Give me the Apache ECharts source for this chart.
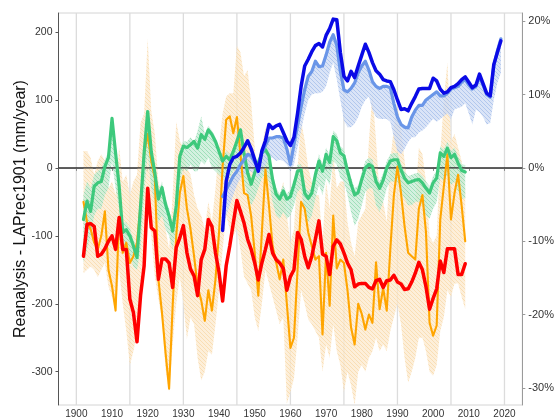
<!DOCTYPE html>
<html>
<head>
<meta charset="utf-8">
<script src="https://cdn.jsdelivr.net/npm/echarts@6/dist/echarts.min.js"></script>
<style>
  html, body { margin: 0; padding: 0; background: #ffffff; }
  #chart { width: 557px; height: 419px; }
</style>
</head>
<body>
<div id="chart"></div>
<script>
// ---- annual series (mm/year), reanalysis minus LAPrec1901 ----
const firstYearLong = 1902, lastYearLong = 2009;
const firstYearBlue = 1941, lastYearBlue = 2019;

const redSeries = [
  -130, -83, -82, -86, -130, -127, -119, -108,
  -100, -120, -73, -120, -120, -193, -213, -256, -188, -144,
  -30, -88, -93, -164, -134, -134, -140, -176, -117, -103,
  -85, -125, -149, -159, -188, -135, -120, -76, -86, -125,
  -154, -196, -144, -115, -81, -48, -64, -81, -105, -120,
  -140, -165, -140, -120, -98, -125, -135, -140, -148, -180,
  -160, -150, -95, -105, -130, -147, -130, -105, -78, -127,
  -130, -157, -115, -106, -112, -125, -140, -150, -175, -171,
  -170, -170, -176, -178, -166, -164, -176, -166, -165, -158,
  -168, -171, -179, -178, -168, -155, -139, -150, -175, -208,
  -192, -178, -137, -154, -119, -119, -119, -157, -157, -141
];

const greenSeries = [
  -76, -49, -64, -27, -22, -20, 2, 15,
  73, 22, -27, -95, -91, -100, -115, -132, -56, 22,
  83, 24, -7, -46, -29, -54, -71, -93, -56, 17,
  32, 30, 34, 39, 29, 49, 42, 56, 49, 39,
  24, 10, 17, 12, 24, 39, 56, 22, -7, -24,
  -7, 7, 22, 27, 17, -17, -39, -46, -34, -46,
  -42, -25, -5, -3, -37, -45, -37, -10, 10, -5,
  20, 8, 46, 40, 22, 18, -5, -24, -40, -36,
  -17, 0, 5, 2, -20, -30, -18, 0, 10, 12,
  12, -3, -15, -22, -20, -18, -17, -22, -30, -37,
  -22, -15, 22, 17, 29, 15, 20, 7, -4, -6
];
const greenUpper = [
  -40, -20, -30, -10, -5, 0, 12, 25,
  75, 30, -10, -80, -80, -90, -105, -125, -45, 30,
  85, 30, 0, -35, -20, -45, -60, -85, -45, 25,
  40, 38, 45, 38, 55, 76, 50, 62, 55, 45,
  30, 18, 25, 20, 30, 45, 60, 30, 2, -15,
  0, 15, 30, 35, 25, -8, -30, -38, -25, -38,
  -32, -15, 5, 5, -28, -35, -28, 0, 20, 5,
  30, 18, 55, 50, 32, 28, 5, -14, -30, -26,
  -7, 10, 15, 12, -10, -20, -8, 10, 20, 22,
  22, 7, -5, -12, -10, -8, -7, -12, -20, -27,
  -12, -5, 32, 27, 39, 25, 30, 17, 6, 4
];
const greenLower = [
  -140, -120, -100, -70, -60, -60, -40, -30,
  10, -30, -60, -110, -120, -130, -145, -150, -120, -40,
  20, -30, -50, -80, -70, -90, -100, -120, -90, -20,
  0, -5, 5, -5, -5, 10, 5, 15, 0, -5,
  -10, -15, -20, -15, -5, 0, 10, -20, -40, -55,
  -45, -30, -15, -10, -20, -50, -70, -75, -65, -75,
  -70, -55, -35, -30, -70, -80, -70, -45, -25, -40,
  -15, -25, 10, 5, -15, -20, -40, -65, -85, -75,
  -55, -35, -30, -30, -55, -65, -50, -30, -20, -20,
  -20, -35, -45, -55, -55, -50, -50, -55, -70, -75,
  -60, -50, -15, -20, -10, -25, -20, -35, -45, -45
];

const orangeSeries = [
  -50, -80, -90, -110, -120, -100, -64, -150,
  -174, -210, -72, -125, -110, -140, -130, -110, -55, 20,
  50, 10, -15, -164, -213, -272, -325, -203, -100, -37,
  -12, -60, -90, -130, -175, -195, -225, -180, -210, -164,
  -95, 2, 71, 76, 51, 75, 20, -37, -40, -71,
  -125, -188, -95, -2, -56, -115, -139, -164, -135, -200,
  -265, -250, -150, -50, -60, -95, -115, -135, -130, -245,
  -125, -203, -70, -148, -135, -140, -180, -235, -260, -200,
  -215, -238, -216, -228, -139, -208, -177, -210, -120, -40,
  2, -37, -86, -125, -130, -135, -60, -40, -95, -228,
  -247, -232, -76, -27, 20, -76, -37, -10, -56, -108
];
const orangeUpper = [
  25, 25, 15, -10, 10, 20, 10, -30,
  -20, -40, 30, -20, -10, -40, -20, -10, 66, 80,
  190, 84, 50, -20, -40, -90, -120, -40, 68, 40,
  30, 0, -10, -40, -60, -70, -90, -50, -80, -30,
  30, 80, 105, 110, 110, 180, 170, 135, 144, 95,
  30, -30, 30, 60, 32, -10, -30, -40, -20, -70,
  -110, -90, 0, 70, 40, 0, -20, -40, -40, -110,
  -20, -60, 20, -30, -20, -20, -80, -110, -130, -80,
  -70, -60, 40, 110, 40, -40, -50, -80, 10, 60,
  90, 60, 10, -30, -50, -50, 30, 20, -20, -100,
  -110, -100, 20, 100, 155, 40, 50, 30, 10, -30
];
const orangeLower = [
  -155, -150, -145, -150, -161, -150, -140, -175,
  -190, -213, -150, -200, -240, -291, -270, -242, -170, -120,
  -60, -100, -160, -193, -223, -296, -330, -260, -200, -160,
  -200, -252, -220, -230, -280, -313, -300, -270, -275, -230,
  -180, -120, -70, -90, -100, -90, -120, -160, -170, -180,
  -220, -240, -200, -150, -170, -190, -210, -230, -220, -347,
  -330, -310, -250, -180, -200, -223, -230, -240, -250, -300,
  -260, -280, -230, -270, -290, -330, -300, -320, -349, -300,
  -290, -300, -280, -270, -250, -270, -260, -270, -240, -220,
  -200, -230, -280, -316, -300, -280, -250, -250, -270, -300,
  -306, -290, -240, -220, -180, -190, -170, -170, -190, -208
];

const blueSeries = [
  -92, -20, 5, 15, 17, 22, 30, 40, 28,
  12, -5, 25, 40, 64, 58, 62, 64, 52, 40,
  33, 45, 80, 120, 150, 160, 171, 180, 183, 178,
  195, 205, 219, 218, 170, 135, 128, 142, 133, 150,
  166, 182, 170, 155, 143, 138, 130, 128, 127, 115,
  100, 86, 87, 84, 95, 105, 116, 117, 117, 117,
  132, 128, 116, 110, 112, 118, 120, 124, 130, 134,
  126, 118, 122, 138, 124, 110, 106, 152, 170, 187
];
const lightBlueSeries = [
  -42, -32, -22, -12, -5, 5, 12, 20, 18,
  8, 0, 22, 33, 44, 44, 46, 46, 44, 28,
  5, 35, 62, 90, 115, 135, 142, 157, 149, 150,
  166, 185, 196, 180, 142, 115, 112, 117, 125, 140,
  150, 157, 144, 127, 120, 117, 120, 120, 118, 95,
  75, 64, 60, 59, 75, 85, 92, 92, 100, 104,
  108, 112, 106, 106, 110, 116, 118, 120, 126, 130,
  122, 116, 120, 134, 122, 108, 104, 150, 172, 190
];
const blueLower = [
  -95, -70, -55, -40, -25, -15, -10, -5, -5,
  -10, -15, -5, 5, 15, 15, 10, 12, 10, 5,
  -5, 5, 30, 55, 80, 100, 108, 110, 110, 112,
  120, 140, 155, 130, 100, 70, 60, 60, 65, 75,
  90, 100, 105, 85, 75, 72, 72, 72, 68, 45,
  25, 20, 28, 38, 45, 45, 52, 55, 60, 66,
  72, 68, 72, 76, 80, 72, 86, 88, 90, 95,
  80, 64, 86, 82, 75, 64, 66, 100, 125, 140
];

// ---- axis ticks ----
const xTickYears = [1900, 1910, 1920, 1930, 1940, 1950, 1960, 1970, 1980, 1990, 2000, 2010, 2020];
const gridYears = [1900, 1915, 1930, 1945, 1960, 1975, 1990, 2005, 2020];
const mmTicks = [-300, -200, -100, 0, 100, 200];
const pctTicks = [-30, -20, -10, 0, 10, 20];
const mmPerPercent = 10.79;   // 1 % of the LAPrec1901 mean, in mm/year
const yMin = -349, yMax = 228;

function yearRange(a, b) { const out = []; for (let y = a; y <= b; y++) out.push(y); return out; }
const yearsLong = yearRange(firstYearLong, lastYearLong);
const yearsBlue = yearRange(firstYearBlue, lastYearBlue);

const FONT = '"Liberation Sans", Arial, Helvetica, sans-serif';

// diagonal hatch texture used for the uncertainty bands
function hatch(bg, stroke, size) {
  const c = document.createElement('canvas');
  c.width = c.height = size;
  const g = c.getContext('2d');
  g.fillStyle = bg;
  g.fillRect(0, 0, size, size);
  g.strokeStyle = stroke;
  g.lineWidth = 0.8;
  g.beginPath();
  g.moveTo(-1, -1); g.lineTo(size + 1, size + 1);
  g.moveTo(-1, size - 1); g.lineTo(1, size + 1);
  g.moveTo(size - 1, -1); g.lineTo(size + 1, 1);
  g.stroke();
  return { image: c, repeat: 'repeat' };
}

function band(name, years, lo, hi, fill, z) {
  return {
    type: 'custom', name: name, z: z, silent: true, animation: false,
    data: years.map((y, i) => [y, lo[i], hi[i]]),
    renderItem: function (params, api) {
      if (params.dataIndex !== 0) return null;
      const upper = years.map((y, i) => api.coord([y, hi[i]]));
      const lower = years.map((y, i) => api.coord([y, lo[i]])).reverse();
      return { type: 'polygon', shape: { points: upper.concat(lower) }, style: { fill: fill } };
    }
  };
}

function line(name, years, vals, color, width, z) {
  return {
    type: 'line', name: name, z: z, silent: true, animation: false,
    data: years.map((y, i) => [y, vals[i]]),
    showSymbol: false, symbol: 'none',
    lineStyle: { color: color, width: width, join: 'round', cap: 'round' },
    itemStyle: { color: color }
  };
}

const chart = echarts.init(document.getElementById('chart'), null, { renderer: 'canvas' });

chart.setOption({
  animation: false,
  backgroundColor: '#ffffff',
  textStyle: { fontFamily: FONT },
  grid: { left: 58.5, right: 34.5, top: 13, bottom: 13, show: true, borderColor: '#d4d4d4', borderWidth: 1 },
  xAxis: {
    type: 'value', min: 1895, max: 2025,
    axisLine: { show: true, lineStyle: { color: '#8a8a8a', width: 1 } },
    axisTick: { show: true, length: 3, customValues: xTickYears, lineStyle: { color: '#8a8a8a' } },
    axisLabel: { customValues: xTickYears, fontSize: 10, color: '#333', margin: 4, fontFamily: FONT,
                 formatter: function (v) { return String(Math.round(v)); } },
    splitLine: { show: false }
  },
  yAxis: [
    {
      type: 'value', min: yMin, max: yMax, position: 'left',
      name: 'Reanalysis - LAPrec1901 (mm/year)',
      nameLocation: 'middle', nameGap: 30, nameRotate: 90, nameMoveOverlap: false,
      nameTextStyle: { fontSize: 16, color: '#111', fontFamily: FONT },
      axisLine: { show: true, lineStyle: { color: '#555', width: 1 } },
      axisTick: { show: true, length: 3, customValues: mmTicks, lineStyle: { color: '#555' } },
      axisLabel: { customValues: mmTicks, fontSize: 10.5, color: '#333', margin: 6, fontFamily: FONT },
      splitLine: { show: false }
    },
    {
      type: 'value', min: yMin / mmPerPercent, max: yMax / mmPerPercent, position: 'right',
      axisLine: { show: true, lineStyle: { color: '#9a9a9a', width: 1 } },
      axisTick: { show: true, length: 3, customValues: pctTicks, lineStyle: { color: '#9a9a9a' } },
      axisLabel: { customValues: pctTicks, fontSize: 11, color: '#333', margin: 6, fontFamily: FONT,
                   formatter: function (v) { return Math.round(v) + '%'; } },
      splitLine: { show: false }
    }
  ],
  series: [
    {
      type: 'custom', name: 'grid', z: 0, silent: true, animation: false,
      data: gridYears.map(y => [y, 0]),
      renderItem: function (params, api) {
        const x = api.value(0);
        const p1 = api.coord([x, yMax]);
        const p2 = api.coord([x, yMin]);
        return { type: 'line', shape: { x1: p1[0], y1: p1[1], x2: p2[0], y2: p2[1] },
                 style: { stroke: '#dcdcdc', lineWidth: 1.3 } };
      }
    },
    band('orange range', yearsLong, orangeLower, orangeUpper,
         hatch('rgba(252,234,206,0.75)', 'rgba(246,210,155,0.75)', 4), 1),
    band('green range', yearsLong, greenLower, greenUpper,
         hatch('rgba(198,236,214,0.75)', 'rgba(130,214,165,0.8)', 4), 2),
    band('blue range', yearsBlue, blueLower, lightBlueSeries,
         hatch('rgba(205,219,244,0.75)', 'rgba(155,182,232,0.8)', 4), 3),
    {
      type: 'line', name: 'zero', z: 4, silent: true, animation: false,
      data: [[1895, 0], [2025, 0]], showSymbol: false, symbol: 'none',
      lineStyle: { color: '#2b2b2b', width: 1.2 }
    },
    line('orange', yearsLong, orangeSeries, '#FFA500', 2.1, 5),
    line('green', yearsLong, greenSeries, '#3DC97C', 3.2, 6),
    line('light blue', yearsBlue, lightBlueSeries, '#6A96E8', 3.2, 7),
    line('blue', yearsBlue, blueSeries, '#0A0AE6', 3.5, 8),
    line('red', yearsLong, redSeries, '#FF0000', 3.5, 9)
  ]
});
</script>
</body>
</html>
